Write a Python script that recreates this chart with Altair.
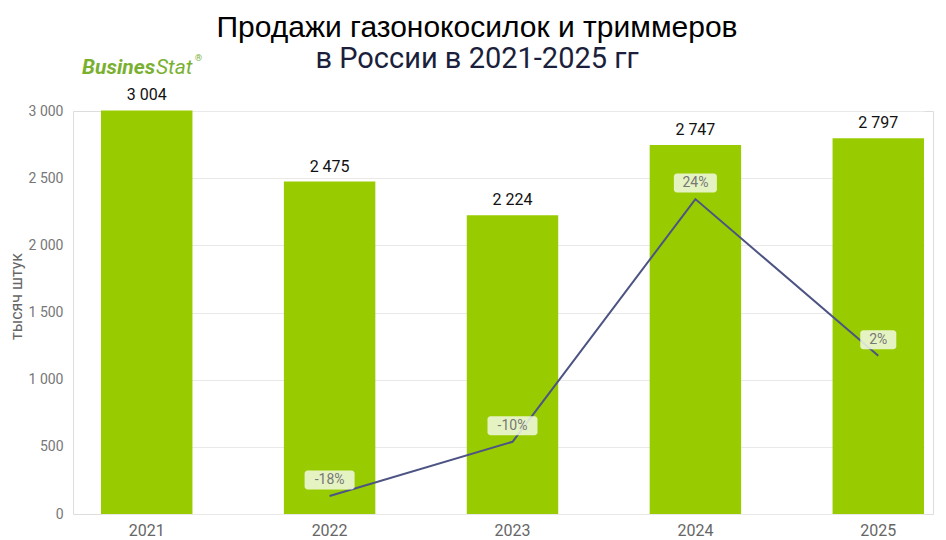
import altair as alt
import pandas as pd

years = ["2021", "2022", "2023", "2024", "2025"]
sales = [3004, 2475, 2224, 2747, 2797]
growth_years = ["2022", "2023", "2024", "2025"]
growth = [-17.6, -10.1, 23.5, 1.8]
growth_labels = ["-18%", "-10%", "24%", "2%"]
y_ticks = [0, 500, 1000, 1500, 2000, 2500, 3000]

bars_df = pd.DataFrame({"year": years, "sales": sales})
growth_df = pd.DataFrame({"year": growth_years, "growth": growth, "label": growth_labels})

x_enc = alt.X(
    "year:N",
    sort=years,
    scale=alt.Scale(domain=years, range=[28, 851], paddingInner=0.5, paddingOuter=0),
    axis=alt.Axis(title=None, labelAngle=0, domain=False, ticks=False, labelPadding=8,
                  labelColor="#666666", labelFontSize=16, labelFont="Roboto", labelFontWeight="normal"),
)

y_primary = alt.Y(
    "sales:Q",
    scale=alt.Scale(domain=[0, 3000], nice=False),
    axis=alt.Axis(
        title="тысяч штук", values=y_ticks, domain=False, ticks=False, labelPadding=10,
        labelColor="#777777", labelFontSize=14, labelFont="Roboto",
        labelExpr="replace(format(datum.value, ','), ',', ' ')",
        gridColor="#e9e9e9", gridWidth=1,
        titleFont="Roboto", titleFontSize=16, titleColor="#666666", titleFontWeight="normal",
        titleX=-57, titleY=185, titleAlign="center", titleBaseline="middle", titleAngle=-90,
    ),
)

sec_scale = alt.Scale(domain=[-20.1, 35.7], nice=False, zero=False)

bars = alt.Chart(bars_df).mark_bar(color="#99cc00").encode(x=x_enc, y=y_primary)
bar_text = alt.Chart(bars_df).transform_calculate(
    lbl="replace(format(datum.sales, ','), ',', ' ')"
).mark_text(dy=-10, baseline="alphabetic", font="Roboto", fontSize=16, fontWeight="normal", color="#111111").encode(
    x=alt.X("year:N", sort=years),
    y=alt.Y("sales:Q"),
    text="lbl:N",
)

line = alt.Chart(growth_df).mark_line(color="#4d5483", strokeWidth=2).encode(
    x=alt.X("year:N", sort=years),
    y=alt.Y("growth:Q", scale=sec_scale, axis=None),
)
boxes = alt.Chart(growth_df).transform_calculate(
    lo="datum.growth + 0.9",
    hi="datum.growth + 3.53",
    w="length(datum.label) * 7 + 22",
).mark_bar(color="#f2f9e4", opacity=0.85, cornerRadius=3).encode(
    x=alt.X("year:N", sort=years),
    y=alt.Y("lo:Q", scale=sec_scale, axis=None),
    y2="hi:Q",
    size=alt.Size("w:Q", scale=None, legend=None),
)
pct_text = alt.Chart(growth_df).mark_text(
    dy=-16, baseline="middle", font="Roboto", fontSize=14, color="#777777"
).encode(
    x=alt.X("year:N", sort=years),
    y=alt.Y("growth:Q", scale=sec_scale, axis=None),
    text="label:N",
)

logo_df = pd.DataFrame({"a": ["Busines"], "b": ["Stat"], "c": ["®"]})
logo1 = alt.Chart(logo_df).mark_text(
    align="left", baseline="alphabetic", font="Roboto", fontSize=21,
    fontStyle="italic", fontWeight="bold", color="#7ab030"
).encode(x=alt.value(9), y=alt.value(-37), text="a:N")
logo2 = alt.Chart(logo_df).mark_text(
    align="left", baseline="alphabetic", font="Roboto", fontSize=21,
    fontStyle="italic", color="#7ab030"
).encode(x=alt.value(83), y=alt.value(-37), text="b:N")
logo3 = alt.Chart(logo_df).mark_text(
    align="left", baseline="alphabetic", font="Roboto", fontSize=9, color="#7ab030"
).encode(x=alt.value(122), y=alt.value(-50), text="c:N")

primary = alt.layer(bars, bar_text)
secondary = alt.layer(line, boxes, pct_text)

chart = alt.layer(primary, secondary, logo1, logo2, logo3).resolve_scale(y="independent").properties(
    width=860,
    height=403,
    padding={"left": 65, "top": 103, "right": 5, "bottom": 30},
    autosize=alt.AutoSizeParams(type="none"),
    title=alt.TitleParams(
        text="Продажи газонокосилок и триммеров",
        subtitle="в России в 2021-2025 гг",
        font="Liberation Sans", fontSize=30, fontWeight="normal", color="#000000",
        subtitleFont="Roboto", subtitleFontSize=29, subtitleColor="#1b1f3b", subtitlePadding=2,
        anchor="middle", dx=-26, offset=-20, frame="group",
    ),
).configure_view(stroke=None).configure(background="white")

chart.save("out.html", embed_options={"renderer": "svg", "actions": False})
